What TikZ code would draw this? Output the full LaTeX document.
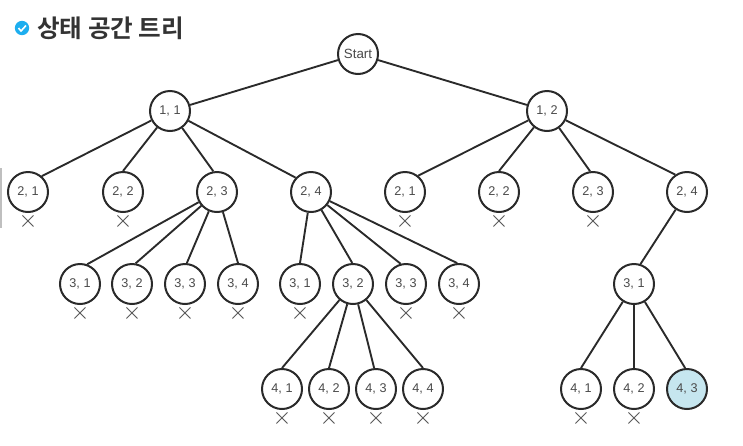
\documentclass[tikz,border=0pt]{standalone}
\usepackage{fontspec}
\setmainfont{Liberation Sans}
\newfontfamily\krfont{Noto Sans CJK KR}[BoldFont={Noto Sans CJK KR Bold}]
\usepackage{tikz}
\definecolor{goalfill}{HTML}{C6E6EF}
\definecolor{checkblue}{HTML}{1DAEEF}
\definecolor{inkline}{HTML}{2A2A2A}
\definecolor{inktext}{HTML}{4A4A4A}

\begin{document}
\begin{tikzpicture}[x=0.25mm,y=-0.25mm,font=\fontsize{9}{9}\selectfont,
  state/.style={draw=inkline,circle,line width=0.5mm,inner sep=0pt,minimum size=10mm,fill=white,text=inktext},
  edge/.style={draw=inkline,line width=0.47mm},
  cut/.style={inner sep=0pt,text=inktext,font=\fontsize{16}{16}\selectfont}]
\useasboundingbox (0,0) rectangle (743,445);
\fill[black!25] (0,168) rectangle (2,228);
% title
\node[circle,fill=checkblue,inner sep=0pt,minimum size=3.6mm] (tick) at (22,28) {};
\draw[white,line width=0.4mm] (18.5,28) -- (21,31) -- (26,25.5);
\node[anchor=west,inner sep=0pt,text=black!80,font=\krfont\bfseries\fontsize{17.5}{18}\selectfont] (title) at (37,28) {상태 공간 트리};
% levels 0 and 1
\node[state,font=\fontsize{9.5}{9.5}\selectfont] (S) at (358,54) {Start};
\node[state] (A1) at (170,111) {1, 1};
\node[state] (A2) at (547,111) {1, 2};
\draw[edge] (S) -- (A1);
\draw[edge] (S) -- (A2);
% level 2, the last field is where the edge meets the circle
\foreach \n/\x/\lab/\up/\ang in {B1/28/{2, 1}/A1/49,B2/123/{2, 2}/A1/90,B3/217/{2, 3}/A1/100,B4/311/{2, 4}/A1/137,
    B5/405/{2, 1}/A2/51,B6/499/{2, 2}/A2/90,B7/593/{2, 3}/A2/98,B8/687/{2, 4}/A2/124}{
  \node[state] (\n) at (\x,192) {\lab};
  \draw[edge] (\up) -- (\n.\ang);
}
% level 3
\foreach \n/\x/\lab/\up/\ang in {C1/80/{3, 1}/B3/70,C2/132/{3, 2}/B3/80,C3/185/{3, 3}/B3/85,C4/238/{3, 4}/B3/90,
    C5/300/{3, 1}/B4/90,C6/353/{3, 2}/B4/92,C7/406/{3, 3}/B4/105,C8/459/{3, 4}/B4/95,C9/634/{3, 1}/B8/72}{
  \node[state] (\n) at (\x,284) {\lab};
  \draw[edge] (\up) -- (\n.\ang);
}
% level 4
\foreach \n/\x/\lab/\up/\ang in {D1/282/{4, 1}/C6/90,D2/329/{4, 2}/C6/90,D3/376/{4, 3}/C6/95,D4/423/{4, 4}/C6/90,
    D5/581/{4, 1}/C9/90,D6/634/{4, 2}/C9/90}{
  \node[state] (\n) at (\x,389) {\lab};
  \draw[edge] (\up) -- (\n.\ang);
}
\node[state,fill=goalfill] (D7) at (687,389) {4, 3};
\draw[edge] (C9) -- (D7.95);
% pruned states
\foreach \n in {B1,B2,B5,B6,B7,C1,C2,C3,C4,C5,C7,C8,D1,D2,D3,D4,D5,D6}{
  \node[cut,anchor=center] (x\n) at ([yshift=-7.4mm]\n) {$\times$};
}
\end{tikzpicture}
\end{document}
